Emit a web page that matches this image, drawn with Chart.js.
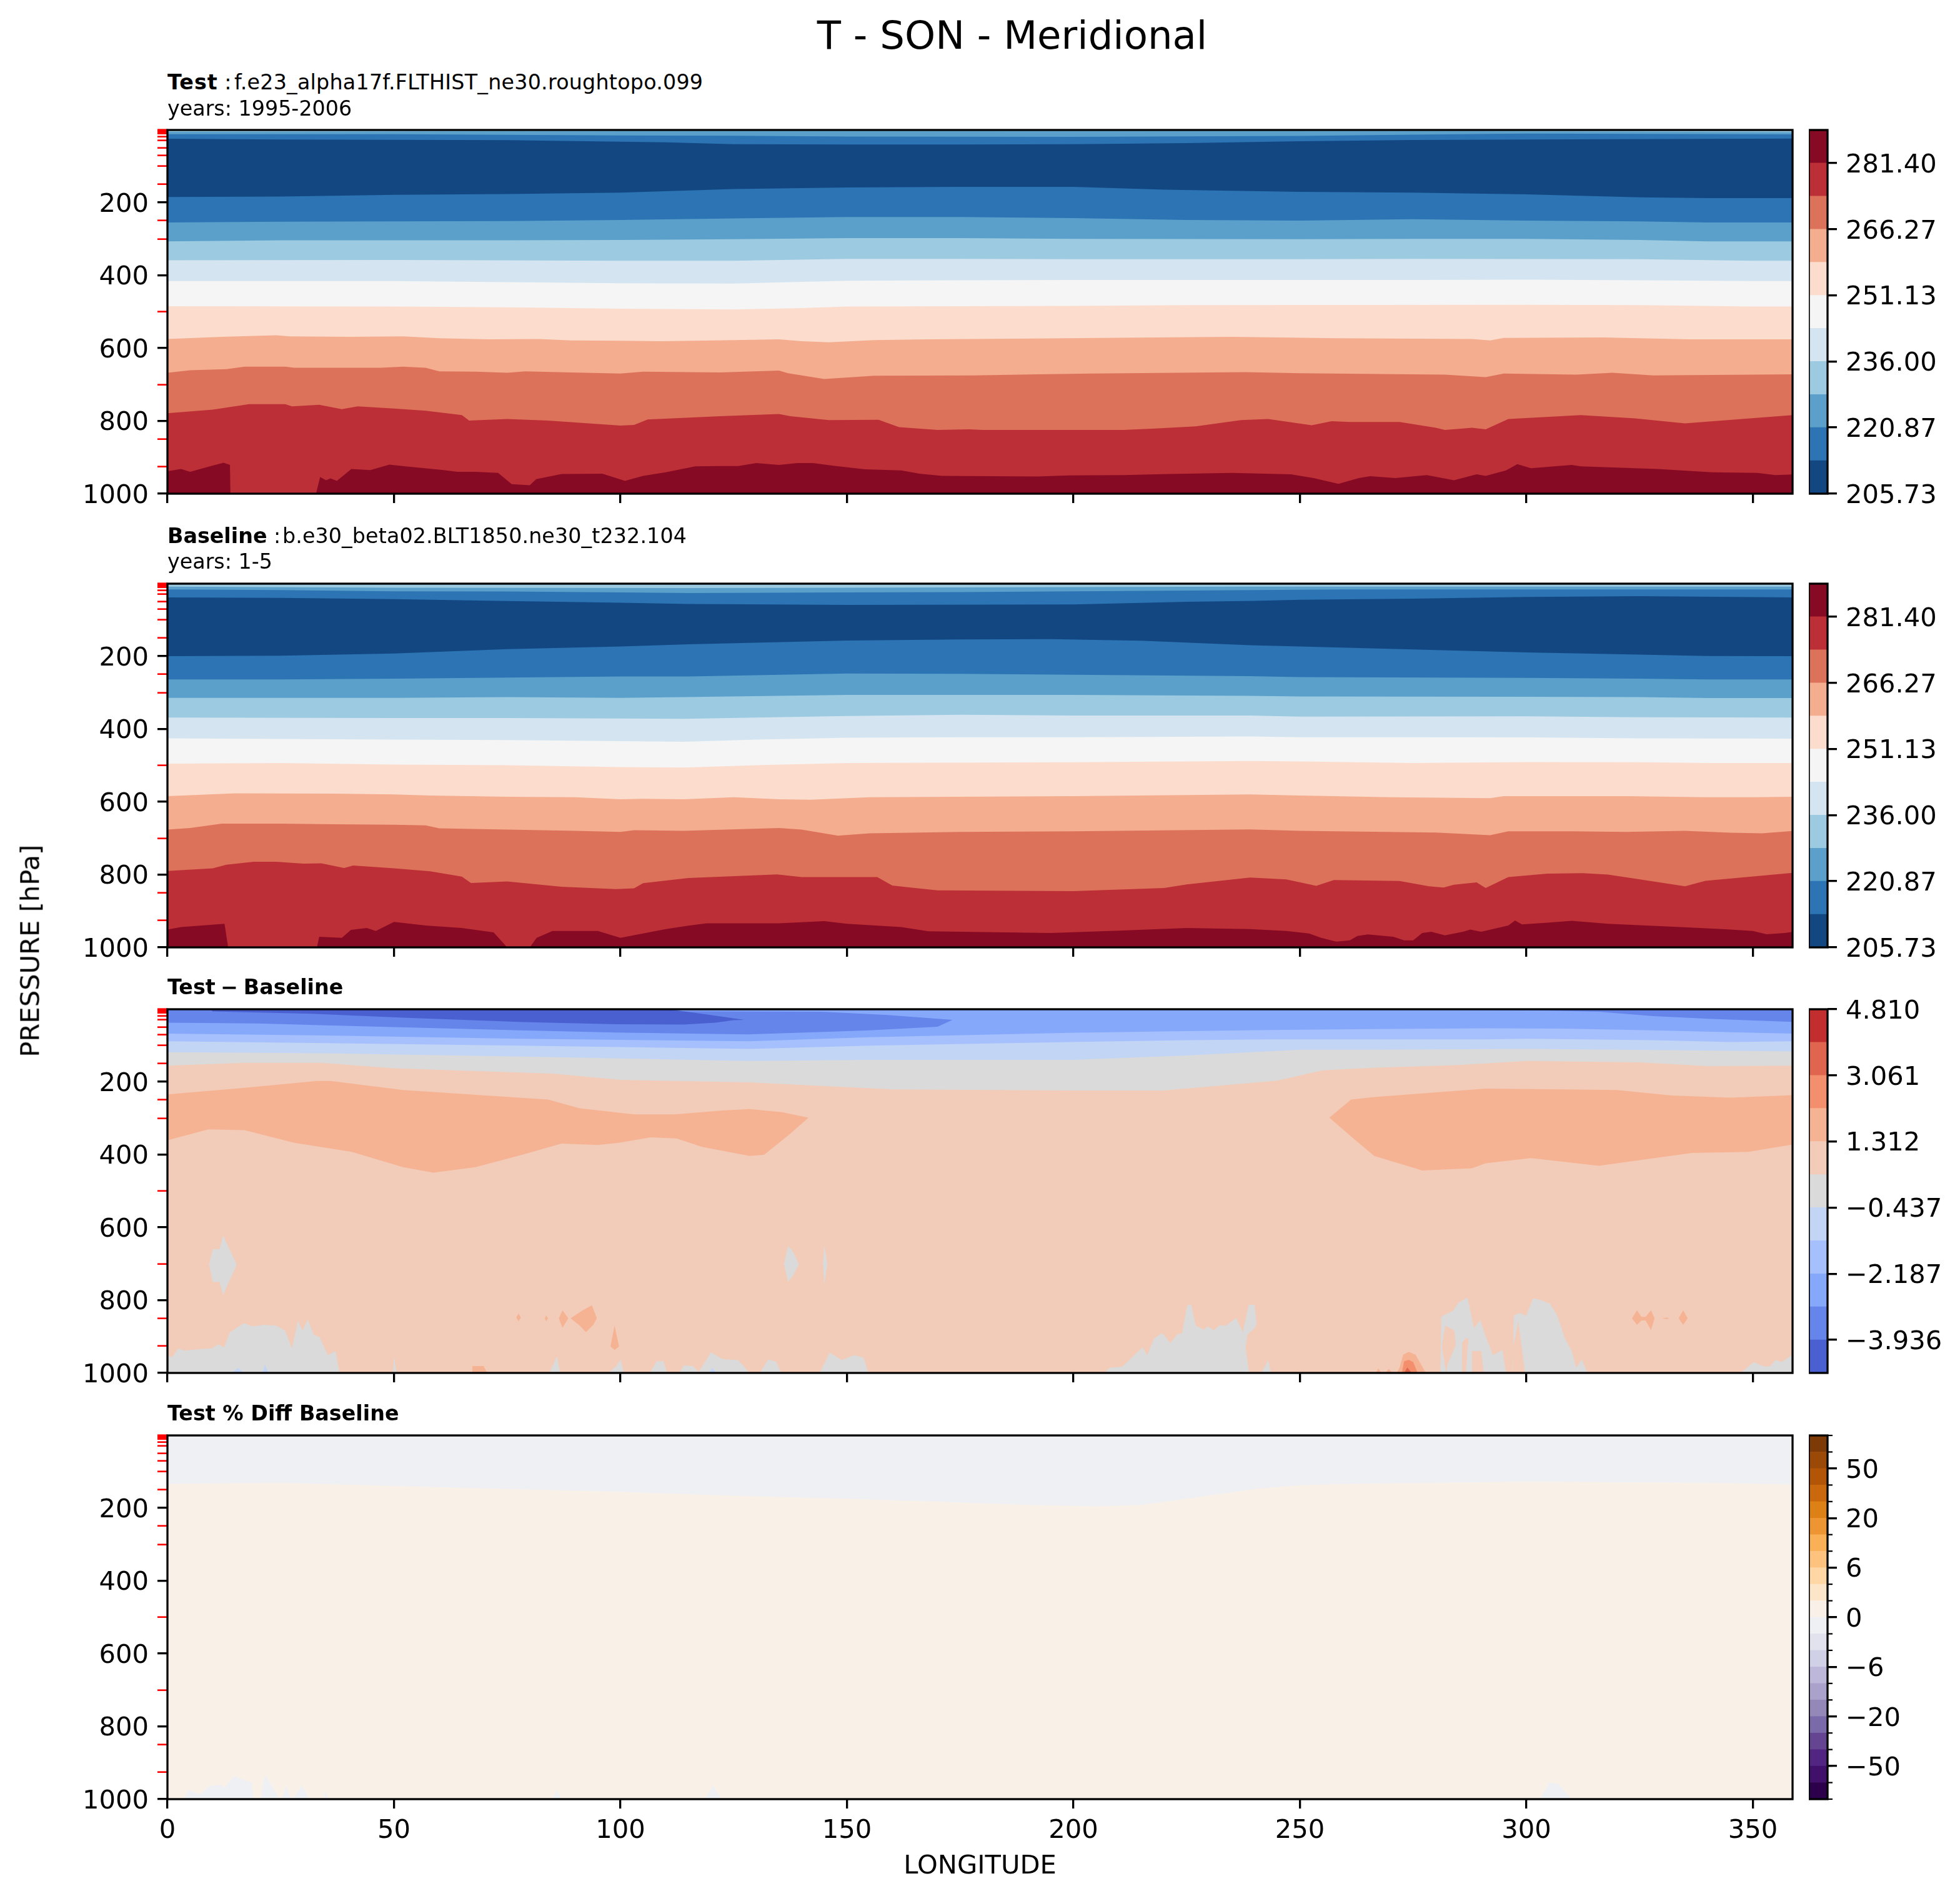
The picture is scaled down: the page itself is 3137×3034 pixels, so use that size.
<!DOCTYPE html>
<html><head><meta charset="utf-8">
<script src="https://cdn.jsdelivr.net/npm/chart.js@4"></script>
<style>
html,body{margin:0;padding:0;background:#fff;width:3137px;height:3034px;overflow:hidden}
canvas{position:absolute}
.t{position:absolute;white-space:pre;font-family:"DejaVu Sans";color:#000}
</style></head><body>
<script>
// ---------- axis data ----------
const lonTicks=[0,50,100,150,200,250,300,350];
const pressureLevels=[1,2,3,5,7,10,20,30,50,70,100,150,200,250,300,400,500,600,700,800,850,925,1000];
const pressureLabels=[200,400,600,800,1000];
const redLevels=[1,2,3,5,7,10,20,30,50,70,100,150,250,300,500,700,850,925];
// ---------- colour bar data ----------
const tempLevels=[205.73,213.30,220.87,228.43,236.00,243.57,251.13,258.70,266.27,273.83,281.40,288.97];
const tempTicks=[205.73,220.87,236.00,251.13,266.27,281.40];
const tempColors=['#134782','#2c74b3','#5aa0ca','#9ccae0','#d4e5f1','#f5f5f5','#fcdccd','#f4ad8e','#dd725b','#bd2f36','#870a24'];
const diffLevels=[-4.810,-3.936,-3.061,-2.187,-1.312,-0.437,0.437,1.312,2.187,3.061,3.936,4.810];
const diffTicks=[-3.936,-2.187,-0.437,1.312,3.061,4.810];
const diffColors=['#4a60d0','#6585ea','#85a8fb','#a6c0fd','#c3d5f4','#dadada','#f2ccb8','#f6b394','#f48f6e','#e0654f','#c22e2e'];
const pctLevels=[-100,-75,-50,-40,-30,-20,-15,-10,-6,-4,-2,0,2,4,6,10,15,20,30,40,50,75,100];
const pctTicks=[-50,-20,-6,0,6,20,50];
const pctColors=['#2d004b','#41106a','#532582','#654591','#7b6aa9','#9488b9','#aba2cc','#bdb8da','#d0d1e6','#e2e2ee','#eff0f4','#f9f1e8','#fde5c9','#fed7a4','#fdc37e','#f9b057','#ed9532','#dd8015','#c9680d','#b25507','#9a4a06','#7d3a07'];
// ---------- Test panel: contour boundaries [lon, hPa], top to bottom ----------
const test0=[[0,6],[100,4],[150,4],[200,3.5],[250,4],[300,5],[359,7]];
const test1=[[0,12.7],[50,12.7],[100,16],[125,17],[150,19],[200,20],[250,17.5],[275,14],[300,11],[359,13]];
const test2=[[0,25],[25,27],[50,28],[75,29],[100,33],[110,35],[125,40],[150,41],[175,41],[200,40],[225,37],[250,32],[275,28.5],[300,27],[359,24.5]];
const test3=[[0,185],[25,184],[50,179],[75,177],[100,173],[125,163],[150,159],[175,157],[200,157],[210,161],[220,165],[250,171],[275,173],[300,178],[325,186],[340,188],[359,188]];
const test4=[[0,255],[25,253],[50,252],[75,251],[100,248],[125,244],[150,240],[175,240],[200,243],[225,248],[250,250],[275,246],[300,250],[325,252],[340,255],[359,255]];
const test5=[[0,307],[25,304],[75,304],[100,303],[125,301],[150,298],[175,298],[200,300],[250,301],[275,300],[300,300],[325,303],[340,307],[359,307]];
const test6=[[0,359],[50,358],[100,360],[125,360],[150,355],[175,355],[200,356],[250,356],[275,355],[325,356],[350,360],[359,360]];
const test7=[[0,416],[50,416],[75,419],[100,422],[125,423],[150,415],[175,414],[200,413],[275,413],[300,412],[325,414],[350,416],[359,416]];
const test8=[[0,485],[50,486],[75,488],[100,492],[125,494],[140,490],[150,486],[175,485],[200,484],[225,482],[300,481],[325,482],[350,486],[359,486]];
const test9=[[0,575],[12,569],[24,565],[27,568],[40,569],[52,568],[60,573],[71,576],[82,575],[89,579],[100,580],[109,581],[121,579],[135,576],[140,581],[146,584],[156,578],[168,576],[191,574],[206,572],[235,569],[258,573],[288,575],[292,579],[295,572],[317,571],[336,576],[359,576]];
const test10=[[0,668],[5,661],[13,658],[17,651],[26,651],[28,654],[47,654],[52,651],[57,654],[60,664],[68,665],[75,668],[79,664],[89,667],[100,670],[105,665],[122,667],[135,662],[137,669],[145,685],[156,676],[178,675],[192,672],[204,670],[238,666],[250,669],[282,673],[291,680],[295,670],[311,673],[319,668],[328,675],[359,672]];
const test11=[[0,779],[10,769],[18,754],[26,754],[27.5,760],[33.5,756],[38.5,768],[42,760],[50,766],[57,772],[65,784],[66.6,799],[75,795],[84,799],[93,807],[100,813],[103,811],[106,796],[122,787],[135,781],[137.5,787],[146,798],[157,797],[161.5,817],[170,825],[177,823],[180,825],[211,825],[218,821],[227,815],[237,798],[243,795],[252.6,812],[257,801],[261,803],[272,803],[280,819],[282,825],[288,819],[291,823],[296,795],[312,784],[324,793],[335,807],[359,784]];
const test12=[[0,938],[3,932],[5,940],[9.6,924],[12.4,915],[13.8,921],[13.9,1000],[32.8,1000],[33.7,954],[35,963],[36,958],[37.4,965],[40.6,932],[44.8,935],[49,920],[52.5,925],[61,935],[64,940],[68,940],[73,943],[76,974],[80,977],[81.4,960],[87,946],[96,945],[101,965],[105,951],[110,941],[116.5,925],[122,924],[126,924],[130,916],[135,921],[139,916],[142.5,916],[147,923],[154,933],[162,936],[166,945],[171,951],[192,953],[199,950],[211,949],[221,946],[235,943],[248,947],[253,957],[258.5,973],[263,957],[265.5,952],[271,957],[278,949],[284,963],[289,947],[291,951],[295.5,936],[298,919],[301,930],[310,921],[312,925],[329,932],[341,941],[351,943],[355,949],[359,947]];
// ---------- Baseline panel ----------
const base0=[[0,9],[50,12],[115,13],[150,12],[200,10.6],[240,9],[359,9]];
const base1=[[0,17],[25,18.6],[50,22],[75,22.6],[100,25],[115,26.6],[150,25],[175,24],[200,22],[240,18.6],[260,17],[359,17]];
const base2=[[0,38.6],[25,40],[50,43.3],[75,48.6],[100,53.3],[115,56.7],[150,59.3],[200,58],[225,50.6],[240,48],[250,45.3],[275,42],[300,37.3],[325,35.3],[359,38.6]];
const base3=[[0,200],[25,199],[50,193],[75,181],[100,173.6],[115,167.5],[150,157],[175,154],[195,153.5],[215,157.5],[239,170],[250,173.6],[275,181.6],[300,189.6],[325,196],[340,199.6],[359,200]];
const base4=[[0,264],[25,264],[50,262],[75,259],[100,256],[115,255.7],[150,247.7],[175,248.4],[200,251],[239,255],[250,257.7],[300,259.7],[325,261.7],[340,264],[359,264]];
const base5=[[0,314.5],[50,314.5],[75,312.5],[100,314.5],[114,312.5],[150,306.5],[200,306.5],[239,309],[250,311],[300,311.8],[325,312.5],[340,315],[359,315]];
const base6=[[0,368.6],[50,370],[75,370],[100,371.3],[114,372],[130,368.6],[150,364.6],[175,361],[200,363],[239,363],[250,366],[300,365.3],[325,368],[359,368.6]];
const base7=[[0,426],[50,429.4],[75,430.7],[100,433.4],[114,435.4],[130,429.4],[150,424],[175,422.7],[200,422.7],[239,420.7],[250,422.7],[275,423],[300,423.4],[325,426],[359,426.7]];
const base8=[[0,495.5],[25,493.5],[50,498],[75,499.5],[100,505],[114,506],[130,499.5],[150,493.5],[200,491.5],[239,488],[250,489.5],[275,493.5],[300,491],[325,491.5],[340,493.5],[359,493.5]];
const base9=[[0,584.4],[15,577],[37,577.7],[50,579.7],[58,583],[75,586.4],[90,587.7],[100,593],[105,591.7],[114,593],[125,587.7],[135,593],[142,594.4],[155,587.7],[200,584.4],[239,579.7],[250,583],[270,587.7],[292,590],[295,584.4],[322,584.4],[340,587.7],[350,587.7],[359,586.4]];
const base10=[[0,676.6],[5,672],[12,660],[25,660],[37,662],[50,663],[57,665],[60,673],[75,676.6],[90,680],[100,683],[103,678],[114,680],[135,672],[140,676.6],[148,693],[155,686.6],[175,683],[200,681],[239,676],[250,680],[280,684.6],[292,692],[296,681],[310,681],[322,683],[335,680],[345,685],[352,686.6],[359,680]];
const base11=[[0,790],[10,783],[13,773],[19,765],[24,765],[30,770],[34,769],[39,782],[41,775],[50,783],[58,791],[65,805.5],[67,823],[75,819],[87,833.5],[99,840],[103,838],[105,823.5],[115,809.5],[134.6,799.5],[140,807],[156.7,807],[160,830],[165,837],[170,843.5],[200,845.5],[220,837],[225,827],[239,808],[247,813.5],[253.6,831],[257.5,815],[272,817.5],[278.5,832],[281.7,835.5],[284,828],[289,821.5],[291,837],[296,807],[304.6,797.5],[312.5,796],[318,800],[326,815],[335,832],[339.5,817],[359,795]];
const base12=[[0,951],[3,944],[12.6,935],[13.4,1000],[33,1000],[33.5,971],[38.5,974],[40.5,952],[44,947],[46,955],[50,930],[57,940],[65,947],[72,959],[75,1000],[80,1000],[81.5,974],[85,955],[95,955],[100,974],[110,950],[115,940.5],[119,934],[135,934],[145,928],[150,935],[162,944],[168,956],[185,959],[195,960.5],[210,954],[225,947],[239,950],[247,955],[252,962],[254.7,974],[258,984],[261,980.5],[262.7,968.5],[265,964.5],[270.6,971],[273,980.5],[275,980.5],[277,960.5],[279,957],[282,967],[286,957],[287.6,951],[290,957],[296,940],[297.5,926],[299,937],[304.6,932],[310,927],[318,935],[334,944],[344,950.4],[350,955],[353,964],[357,960.5],[359,957]];
// ---------- Difference panel ----------
const diffLensUpper=[[0,1],[144.5,8],[159,17],[173.3,30]];
const diffLensLower=[[0,38],[20,40],[35,45],[78,59],[99,65],[128,70],[146,63],[155,59],[170,49],[173.3,30]];
const diffLensRight=[[255,1],[290,3],[305,5],[316,8],[328,20],[341,27.5],[359,36]];
const diffDarkUpper=[[9.4,1],[110.6,1],[118,13.5],[127.4,30]];
const diffDarkLower=[[9.4,1],[10,7],[32,13.5],[52,24],[78.5,36],[99,42],[114,43],[121,38],[125,31],[127.4,30]];
const diff1=[[0,68],[35,73],[78,82],[128.5,89],[155,78],[199,66],[225,61],[243,58],[266,55.6],[291,53.5],[308,54],[328,59],[345,64],[359,68]];
const diff2=[[0,89],[35,94],[78,101],[128.5,110],[155,101],[199,91],[225,86],[243,84],[266,84],[291,84],[300,82],[328,86],[345,91],[359,89]];
const diff3=[[0,119],[35,122],[78,131],[128.5,143],[155,140],[200,140],[225,128],[250,112],[266,112],[300,110],[328,113],[359,117]];
const diff4=[[0,156],[17,148],[34,148],[50,163],[85,178],[100,195],[128.5,202],[160,221],[200,224],[220,224],[245,197],[255,169],[266,162],[285,154],[300,143],[325,147],[340,157],[359,156]];
const warmLeftUpper=[[0,235],[17,217],[33,198],[36,198],[52,223],[84,249],[91,273],[103,290],[112,290],[122.5,279],[128.5,275],[135.7,284],[141.5,299]];
const warmLeftLower=[[0,361],[9,331],[17,333],[28,368],[40.7,393],[52,435],[58.7,450],[68,435],[78.5,400],[87,370],[95,374],[99.6,368],[106.7,353],[112.4,356],[118,379],[128.5,404],[131.7,401],[137.4,344],[141.5,299]];
const warmRightUpper=[[256.5,299],[261.3,249],[266.4,242],[291,219],[308,221],[320,223],[332,238],[345,244],[359,237]];
const warmRightLower=[[256.5,299],[262,358],[266.4,404],[277,444],[288,438],[291,424],[301,410],[316,431],[336.5,396],[349,393],[359,372]];
const greyLensAUp=[[9.2,702],[10,660],[11.5,660],[12.3,623],[13.5,655],[15.3,702]];
const greyLensALo=[[9.2,702],[10,750],[11.5,750],[12.3,786],[13.5,752],[15.3,702]];
const greyLensBUp=[[136.1,701],[137,651],[138,665],[139.4,701]];
const greyLensBLo=[[136.1,701],[137,750],[138,735],[139.4,701]];
const greyLensCUp=[[144.7,701],[145,650],[145.7,701]];
const greyLensCLo=[[144.7,701],[145,757],[145.7,701]];
const greySurface=[[0,951],[1,957],[2.4,933],[3.7,938],[9.9,932],[11.2,921],[12.5,930],[13.8,888],[16.9,863],[18.7,872],[21.3,868],[24,870],[26,884],[27.5,933],[28.8,856],[29.8,884],[31,854],[32.3,895],[33.6,902],[35.4,951],[37.1,940],[38,1000],[49.8,1000],[50,955],[50.6,1000],[84.3,1000],[85.5,968],[86,954],[86.7,1000],[97.3,1000],[99,983],[100,963],[100.8,1000],[106.5,1000],[108,968],[109.5,968],[110.3,1000],[113,1000],[114,979],[116,981],[117.3,997],[120,943],[122.5,962],[126,965],[128.5,1000],[130.8,1000],[132.6,963],[134.4,969],[135.5,1000],[144,1000],[146.2,944],[148.9,965],[151.5,951],[153.7,958],[154.7,1000],[206.9,1000],[208,986],[210.8,983],[215.2,930],[216.3,951],[217.8,905],[219.6,890],[221.4,918],[223,893],[224,891],[225.1,814],[226,813],[227,870],[228.8,881],[229.7,872],[231,883],[232.3,869],[233.7,870],[235.9,849],[237.4,888],[238.7,813],[240,813],[240.4,860],[240.7,1000],[241.5,1000],[243,965],[243.6,1000],[281,1000],[281.2,845],[283.8,829],[285,807],[287,793],[288.4,877],[289.8,855],[291,899],[292.6,951],[294.7,937],[295.5,1000],[297,1000],[297.2,843],[298.5,835],[299.9,843],[301.5,795],[303.2,800],[305.2,810],[306.8,842],[308.5,905],[310,940],[311,986],[312.2,963],[313.5,1000],[347.3,1000],[350.2,970],[352.2,981],[353.7,983],[355,965],[356.4,970],[359,947]];
const pinkPatchAUp=[[238,930],[238.4,895],[240,877],[240.7,860]];
const pinkPatchALo=[[238,930],[238.8,1000],[240.7,1000]];
const pinkPatchBUp=[[281.3,927],[282.1,870],[284.1,884],[284.4,923]];
const pinkPatchBLo=[[281.3,927],[282.3,1000],[282.6,976],[284.4,923]];
const pinkPatchCUp=[[285.8,917],[286.6,905],[287.2,905]];
const pinkPatchCLo=[[285.8,1000],[286.6,1000],[287.2,905]];
const pinkPatchD=[[288,940],[290,940],[290.6,1000]];
const pinkPatchE=[[297.1,928],[298.2,857],[299.7,1000]];
const coolBits=[[[14.3,1000],[15.5,986],[16.9,1000]],[[21,1000],[21.5,976],[22.3,1000]],[[119.5,1000],[120.3,986],[121.2,1000]]];
const warmBitsUp=[[[77,848],[77.5,837],[78,848]],[[83.3,850],[83.6,842],[84,850]],[[86.4,850],[87.2,828],[88.5,850]],[[89,850],[91.5,829],[93.7,814],[94.8,850]],[[97.8,927],[98.7,870],[99.7,927]],[[323.3,850],[324.4,828],[325.4,846],[326.3,846],[327.5,828],[328.3,850]],[[330,850],[331,848],[331.5,850]],[[333.6,850],[334.6,828],[335.6,850]]];
const warmBitsLo=[[[77,848],[77.5,858],[78,848]],[[83.3,850],[83.6,858],[84,850]],[[86.4,850],[87.2,876],[88.5,850]],[[89,850],[91,870],[92.4,888],[94,868],[94.8,850]],[[97.8,927],[98.7,937],[99.7,927]],[[323.3,850],[324.4,868],[325.4,856],[326.3,856],[327.5,882],[328.3,850]],[[330,850],[331,852],[331.5,850]],[[333.6,850],[334.6,868],[335.6,850]]];
const warmSurface=[[[67.2,1000],[67.3,981],[69.8,981],[70.6,1000]],[[266.8,1000],[267.3,988],[268,1000]],[[268.9,1000],[269.6,989],[270.4,1000]],[[271.4,1000],[272,985],[272.8,950],[274,942],[275.5,950],[277.8,1000]]];
const hotHill=[[272.5,1000],[273,968],[274,964],[275,970],[276,1000]];
const hotterHill=[[273,1000],[273.7,985],[274.7,1000]];
// ---------- Percent difference panel ----------
const pct1=[[0,134],[25,131],[50,140],[100,156],[128,168],[150,175],[175,185],[190,192],[205,196],[215,192],[225,175],[240,148],[250,138],[260,134],[300,128],[340,131],[359,136]];
const pctSurface=[[3.7,1000],[4.6,975],[7.2,987],[9.4,963],[12,961],[12.5,969],[14.7,937],[18.6,955],[19.1,1000],[20.6,1000],[21.5,933],[23,961],[24.7,1000],[25.3,998],[26.2,963],[27.2,998],[27.9,998],[29.7,961],[31.2,1000],[34.5,1000],[35,978],[35.4,1000],[85,1000],[86,975],[86.9,1000],[118.6,1000],[120.5,963],[122.3,1000],[303,1000],[305,955],[307,958],[310,1000]];

// ---------- builders ----------
const FONT='"DejaVu Sans"', FS=41.67, AXW=3.3, TICK=15;
const LEFT=268, RIGHT=2869, PANEL_H=582, TOP_PAD=40;
// a blank first line with a short line height lowers a vertical-axis label a few pixels, as in the reference
const LABEL_DROP={family:FONT,size:FS,lineHeight:'8px'};
const lowered=s=>['',s];
const pts=a=>a.map(p=>({x:p[0],y:p[1]}));
const frame={id:'frame',afterDraw(c){const a=c.chartArea,x=c.ctx;x.save();x.strokeStyle='#000';x.lineWidth=AXW;x.strokeRect(a.left,a.top,a.right-a.left,a.bottom-a.top);x.restore();}};
function canvasAt(l,t,w,h){const c=document.createElement('canvas');c.width=w;c.height=h;c.style.left=l+'px';c.style.top=t+'px';c.style.width=w+'px';c.style.height=h+'px';document.body.appendChild(c);return c;}
// layers: painted in listed order. below = fill from the line down to 1000 hPa, above = up to the top, poly = between two lines
function below(d,col){return {d,col,mode:{value:1000}};}
function above(d,col){return {d,col,mode:{value:1}};}
function poly(u,l,col){return {d:u,l,col};}
function panel(top,bg,layers,isLast){
  const xH=isLast?133:60, ds=[];
  layers=[below([[0,1],[359,1]],bg)].concat(layers);
  layers.forEach((L,k)=>{
    const base={borderWidth:0,borderColor:'transparent',backgroundColor:L.col,pointRadius:0,tension:0,order:-k};
    if(L.l){ds.push({...base,data:pts(L.d),fill:'+1'});ds.push({...base,data:pts(L.l),fill:false});}
    else ds.push({...base,data:pts(L.d),fill:L.mode});
  });
  new Chart(canvasAt(0,top-TOP_PAD,RIGHT+16,TOP_PAD+PANEL_H+xH),{type:'line',data:{datasets:ds},plugins:[frame],options:{
    responsive:false,devicePixelRatio:1,animation:false,
    layout:{padding:{top:TOP_PAD,right:16,bottom:0,left:0}},
    plugins:{legend:{display:false},tooltip:{enabled:false},title:{display:false}},
    scales:{
      x:{type:'linear',min:0,max:358.75,afterFit:s=>{s.height=xH;},afterBuildTicks:s=>{s.ticks=lonTicks.map(v=>({value:v}));},
        border:{display:false},
        grid:{drawOnChartArea:false,drawTicks:true,tickLength:TICK,tickColor:'#000',tickWidth:AXW,lineWidth:AXW},
        ticks:{autoSkip:false,maxRotation:0,padding:11,color:'#000',font:{family:FONT,size:FS},callback:v=>isLast?String(v):''},
        title:{display:isLast,text:'LONGITUDE',color:'#000',font:{family:FONT,size:FS},padding:0}},
      y:{type:'linear',reverse:true,min:1,max:1000,afterFit:s=>{s.width=LEFT;},afterBuildTicks:s=>{s.ticks=pressureLevels.map(v=>({value:v}));},
        border:{display:false},
        grid:{drawOnChartArea:false,drawTicks:true,tickLength:TICK+1,lineWidth:AXW,
          tickColor:c=>redLevels.includes(c.tick.value)?'#ff0000':'#000',
          tickWidth:c=>redLevels.includes(c.tick.value)?2.6:AXW},
        ticks:{autoSkip:false,padding:14,color:'#000',font:LABEL_DROP,callback:v=>pressureLabels.includes(v)?lowered(String(v)):''}}
    }}});
}
function colorbar(top,min,max,levels,colors,ticks,fmt,minors){
  const ds=colors.map((c,i)=>({data:[[levels[i],levels[i+1]]],backgroundColor:c,borderWidth:0,barPercentage:1,categoryPercentage:1,grouped:false}));
  const minor={id:'minor',afterDraw(ch){if(!minors)return;const s=ch.scales.y,x=ch.ctx;x.save();x.strokeStyle='#000';x.lineWidth=2.2;minors.forEach(v=>{const p=s.getPixelForValue(v);x.beginPath();x.moveTo(ch.chartArea.right,p);x.lineTo(ch.chartArea.right+8,p);x.stroke();});x.restore();}};
  new Chart(canvasAt(2895,top-TOP_PAD,230,TOP_PAD+PANEL_H+TOP_PAD),{type:'bar',data:{labels:[''],datasets:ds},plugins:[frame,minor],options:{
    responsive:false,devicePixelRatio:1,animation:false,
    layout:{padding:{top:TOP_PAD,bottom:TOP_PAD,left:0,right:0}},
    plugins:{legend:{display:false},tooltip:{enabled:false}},
    scales:{
      x:{display:false},
      y:{type:'linear',position:'right',min,max,afterFit:s=>{s.width=200;},afterBuildTicks:s=>{s.ticks=ticks.map(v=>({value:v}));},
        border:{display:false},
        grid:{drawOnChartArea:false,drawTicks:true,tickLength:TICK,tickColor:'#000',tickWidth:AXW,lineWidth:AXW},
        ticks:{autoSkip:false,padding:14,color:'#000',font:LABEL_DROP,callback:v=>lowered(fmt(v))}}
    }}});
}
// ---------- panels ----------
const TC=tempColors; // index 0 = coldest
function tempLayers(b){
  const order=[3,2,1,0,1,2,3,4,5,6,7,8,9,10];
  return b.map((d,i)=>below(d,TC[order[i+1]]));
}
panel(208,'#9ccae0',tempLayers([test0,test1,test2,test3,test4,test5,test6,test7,test8,test9,test10,test11,test12]),false);
panel(934,'#9ccae0',tempLayers([base0,base1,base2,base3,base4,base5,base6,base7,base8,base9,base10,base11,base12]),false);
const DC=diffColors;
const diffLayersList=[
  poly(diffLensUpper,diffLensLower,DC[1]),above(diffLensRight,DC[1]),poly(diffDarkUpper,diffDarkLower,DC[0]),
  below(diff1,DC[3]),below(diff2,DC[4]),below(diff3,DC[5]),below(diff4,DC[6]),
  poly(warmLeftUpper,warmLeftLower,DC[7]),poly(warmRightUpper,warmRightLower,DC[7]),
  poly(greyLensAUp,greyLensALo,DC[5]),poly(greyLensBUp,greyLensBLo,DC[5]),poly(greyLensCUp,greyLensCLo,DC[5]),
  below(greySurface,DC[5]),
  poly(pinkPatchAUp,pinkPatchALo,DC[6]),poly(pinkPatchBUp,pinkPatchBLo,DC[6]),poly(pinkPatchCUp,pinkPatchCLo,DC[6]),below(pinkPatchD,DC[6]),below(pinkPatchE,DC[6])
];
coolBits.forEach(b=>diffLayersList.push(below(b,DC[4])));
warmBitsUp.forEach((b,i)=>diffLayersList.push(poly(b,warmBitsLo[i],DC[7])));
warmSurface.forEach(b=>diffLayersList.push(below(b,DC[7])));
diffLayersList.push(below(hotHill,DC[8]),below(hotterHill,DC[9]));
panel(1615,DC[2],diffLayersList,false);
panel(2297,pctColors[10],[below(pct1,pctColors[11]),below(pctSurface,pctColors[10])],true);
// ---------- colour bars ----------
const minus=s=>s.replace('-','\u2212');
colorbar(208,205.73,288.97,tempLevels,tempColors,tempTicks,v=>v.toFixed(2));
colorbar(934,205.73,288.97,tempLevels,tempColors,tempTicks,v=>v.toFixed(2));
colorbar(1615,-4.81,4.81,diffLevels,diffColors,diffTicks,v=>minus(v.toFixed(3)));
const pctIndex=pctLevels.map((_,i)=>i);
colorbar(2297,0,22,pctIndex,pctColors,pctTicks.map(v=>pctLevels.indexOf(v)),v=>minus(String(pctLevels[v])),pctIndex);
// ---------- text ----------
function text(html,x,cy,size,extra){const d=document.createElement('div');d.className='t';d.innerHTML=html;d.style.left=x+'px';d.style.top=(cy-size)+'px';d.style.lineHeight=(size*2)+'px';d.style.fontSize=size+'px';if(extra)Object.assign(d.style,extra);document.body.appendChild(d);return d;}
text('T - SON - Meridional',1620,56,62.5,{transform:'translateX(-50%)'});
text('<b style="letter-spacing:1px">Test</b> :<span style="margin-left:4.6px;letter-spacing:.23px">f.e23_alpha17f.FLTHIST_ne30.roughtopo.099</span>',268,132.5,33.33);
text('years: 1995-2006',268,174,33.33);
text('<b>Baseline</b> :<span style="margin-left:2.6px;letter-spacing:.1px">b.e30_beta02.BLT1850.ne30_t232.104</span>',268,858.5,33.33);
text('years: 1-5',268,899.5,33.33);
text('<b style="word-spacing:-3px">Test \u2212 Baseline</b>',268,1580.5,33.33);
text('<b>Test % Diff Baseline</b>',268,2262.5,33.33);
text('PRESSURE [hPa]',48,1522,41.67,{transform:'translateX(-50%) rotate(-90deg)'});
</script>
</body></html>
